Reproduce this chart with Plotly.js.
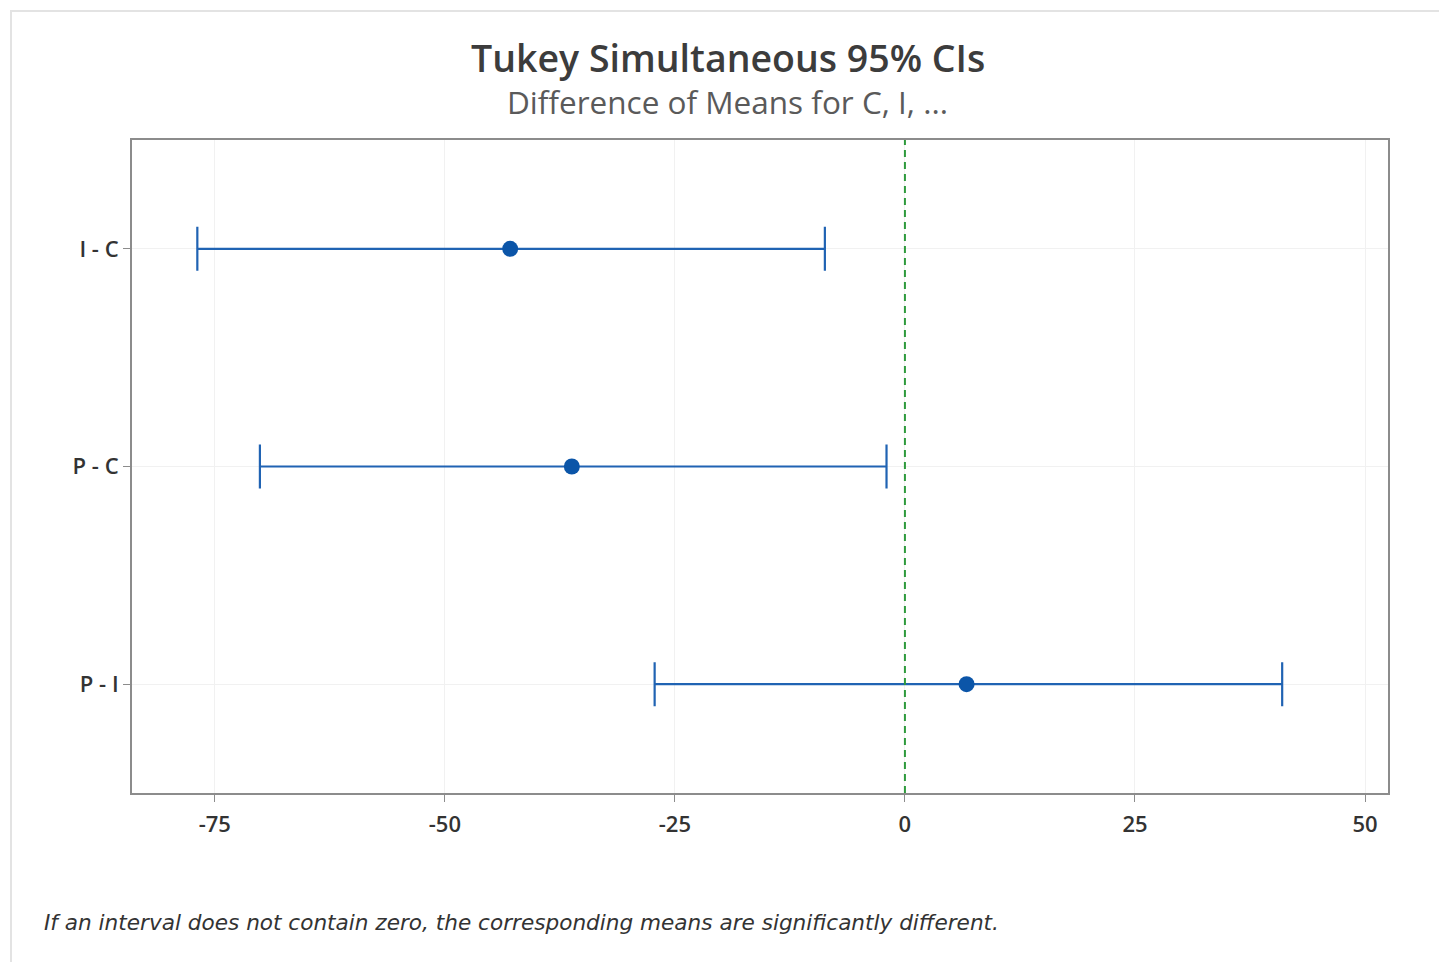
<!DOCTYPE html>
<html>
<head>
<meta charset="utf-8">
<script src="https://cdn.plot.ly/plotly-3.0.1.min.js"></script>
<style>
  html, body { margin: 0; padding: 0; background: #fff; }
  #frame { position: absolute; left: 10px; top: 10px; width: 1429px; height: 952px;
           border-left: 2px solid #e3e3e3; border-top: 2px solid #e3e3e3; box-sizing: border-box; }
  #chart { position: absolute; left: 0; top: 0; width: 1439px; height: 962px; }
</style>
</head>
<body>
<div id="frame"></div>
<div id="chart"></div>
<script>
const comparisons = ['I - C', 'P - C', 'P - I'];
const meanDiff = [-42.9, -36.2, 6.7];
const lowerCI  = [-76.9, -70.1, -27.2];
const upperCI  = [-8.7, -2.0, 41.0];
const xTicks = [-75, -50, -25, 0, 25, 50];

const errPlus = meanDiff.map((m, i) => upperCI[i] - m);
const errMinus = meanDiff.map((m, i) => m - lowerCI[i]);

const trace = {
  type: 'scatter',
  mode: 'markers',
  x: meanDiff,
  y: comparisons,
  marker: { color: '#0b55a8', size: 16, symbol: 'circle' },
  error_x: {
    type: 'data', symmetric: false,
    array: errPlus, arrayminus: errMinus,
    color: '#2063b3', thickness: 2.2, width: 22
  },
  hoverinfo: 'x+y'
};

const layout = {
  width: 1439, height: 962,
  paper_bgcolor: 'rgba(0,0,0,0)',
  plot_bgcolor: '#ffffff',
  margin: { l: 132, r: 51, t: 140, b: 169 },
  showlegend: false,
  font: { family: 'Open Sans, Noto Sans, sans-serif', color: '#333' },
  title: {
    text: 'Tukey Simultaneous 95% CIs',
    font: { family: 'Open Sans, sans-serif', size: 37.5, color: '#3c3c3c', weight: 600 },
    x: 0.506, xref: 'container', xanchor: 'center',
    y: 0.939, yref: 'container', yanchor: 'middle'
  },
  annotations: [
    {
      text: 'Difference of Means for C, I, ...',
      xref: 'paper', yref: 'paper', x: 0.4745, y: 1.0, yshift: 39,
      xanchor: 'center', yanchor: 'middle', showarrow: false,
      font: { family: 'Open Sans, sans-serif', size: 31.5, color: '#5a5a5a' }
    },
    {
      text: '<i>If an interval does not contain zero, the corresponding means are significantly different.</i>',
      xref: 'paper', yref: 'paper', x: 0, xshift: -90, y: 0, yshift: -129,
      xanchor: 'left', yanchor: 'middle', showarrow: false,
      font: { family: 'DejaVu Sans, sans-serif', size: 21.6, color: '#333' }
    }
  ],
  xaxis: {
    range: [-84.0, 52.5],
    tickvals: xTicks,
    ticktext: xTicks.map(String),
    showgrid: true, gridcolor: '#f1f1f1', gridwidth: 1,
    zeroline: false,
    showline: true, linecolor: '#8c8c8c', linewidth: 2, mirror: true,
    ticks: 'outside', ticklen: 7, tickcolor: '#8c8c8c', tickwidth: 1,
    ticklabelstandoff: 4,
    tickfont: { size: 22, color: '#333', weight: 600 },
    fixedrange: true
  },
  yaxis: {
    type: 'category',
    categoryorder: 'array', categoryarray: comparisons,
    range: [2.5, -0.5],
    showgrid: true, gridcolor: '#f1f1f1', gridwidth: 1,
    zeroline: false,
    showline: true, linecolor: '#8c8c8c', linewidth: 2, mirror: true,
    ticks: 'outside', ticklen: 7, tickcolor: '#8c8c8c', tickwidth: 1,
    tickfont: { size: 22, color: '#333', weight: 600 },
    fixedrange: true
  },
  shapes: [
    {
      type: 'line', xref: 'x', yref: 'paper',
      x0: 0, x1: 0, y0: 0, y1: 1,
      line: { color: '#2e9a3c', width: 2, dash: '7px,5px' },
      layer: 'above'
    }
  ]
};

Plotly.newPlot('chart', [trace], layout, { displayModeBar: false, staticPlot: false });
</script>
</body>
</html>
